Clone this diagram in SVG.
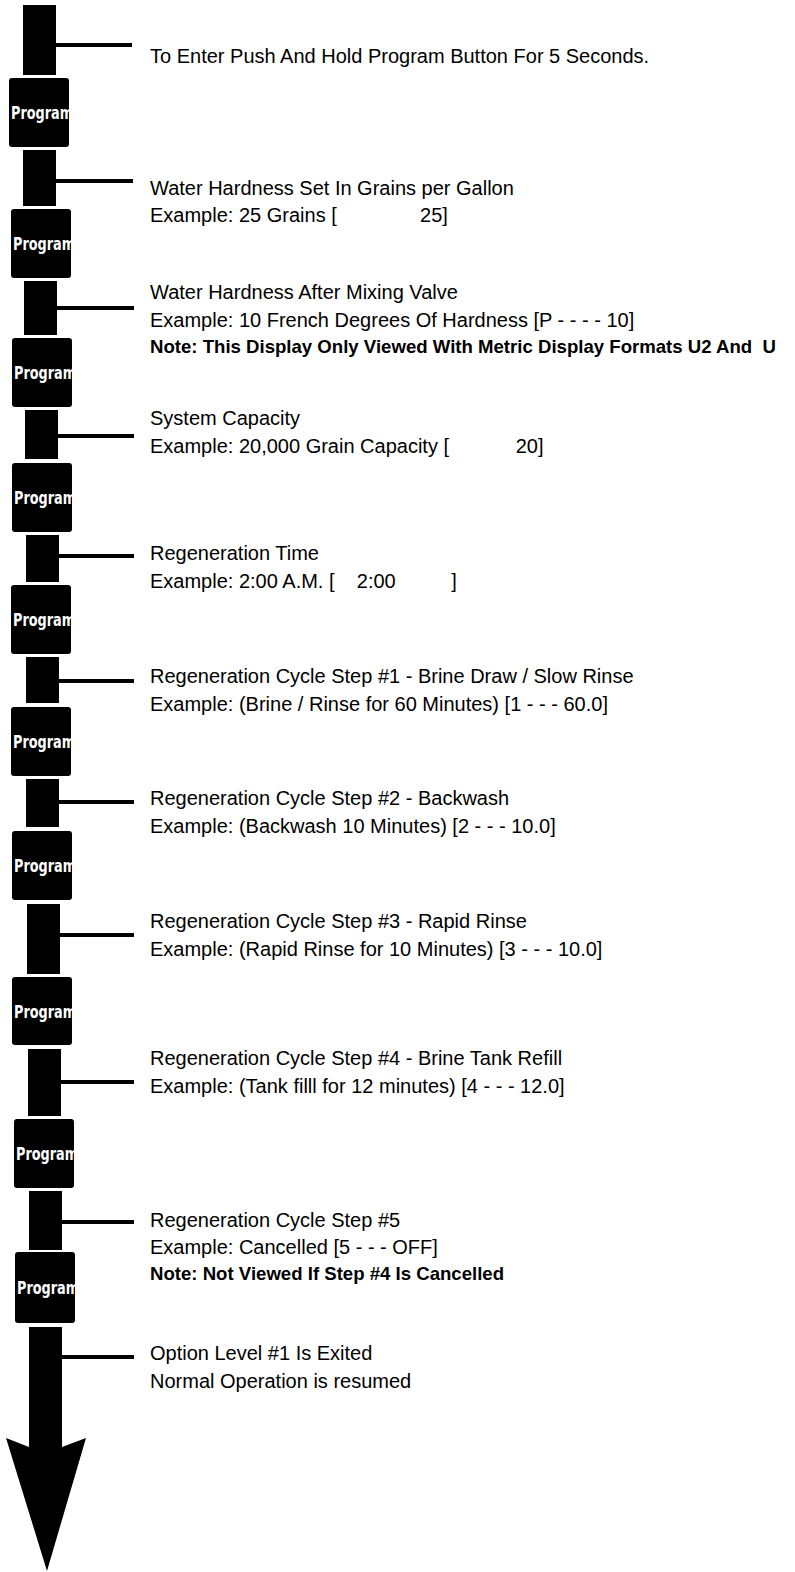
<svg xmlns="http://www.w3.org/2000/svg" width="795" height="1572" viewBox="0 0 795 1572">
<style>
.bar{fill:#000}
.btn{fill:#000}
.bt{font-family:"DejaVu Sans Condensed","DejaVu Sans",sans-serif;font-stretch:condensed;font-size:17px;font-weight:bold;fill:#fff}
.t{font-family:"Liberation Sans",Arial,sans-serif;font-size:20px;fill:#000}
.n{font-family:"Liberation Sans",Arial,sans-serif;font-size:18.6px;font-weight:bold;fill:#000}
.c{stroke:#000;stroke-width:4;fill:none}
</style>
<rect width="795" height="1572" fill="#fff"/>
<g id="bars">
<rect class="bar" x="23" y="5" width="33" height="70"/>
<rect class="bar" x="23" y="150" width="33" height="56"/>
<rect class="bar" x="24" y="281" width="33" height="54"/>
<rect class="bar" x="25" y="410" width="33" height="49"/>
<rect class="bar" x="26" y="535" width="33" height="47"/>
<rect class="bar" x="26" y="657" width="33" height="46"/>
<rect class="bar" x="26" y="779" width="33" height="48"/>
<rect class="bar" x="27" y="904" width="33" height="70"/>
<rect class="bar" x="28" y="1049" width="33" height="67"/>
<rect class="bar" x="29" y="1191" width="33" height="59"/>
</g>
<g id="btn1"><rect class="btn" x="9" y="78" width="60" height="69" rx="3"/><text class="bt" x="11" y="119" textLength="62" lengthAdjust="spacingAndGlyphs">Program</text></g>
<g id="btn2"><rect class="btn" x="11" y="209" width="60" height="69" rx="3"/><text class="bt" x="13" y="250" textLength="62" lengthAdjust="spacingAndGlyphs">Program</text></g>
<g id="btn3"><rect class="btn" x="12" y="338" width="60" height="69" rx="3"/><text class="bt" x="14" y="379" textLength="62" lengthAdjust="spacingAndGlyphs">Program</text></g>
<g id="btn4"><rect class="btn" x="12" y="463" width="60" height="69" rx="3"/><text class="bt" x="14" y="504" textLength="62" lengthAdjust="spacingAndGlyphs">Program</text></g>
<g id="btn5"><rect class="btn" x="11" y="585" width="60" height="69" rx="3"/><text class="bt" x="13" y="626" textLength="62" lengthAdjust="spacingAndGlyphs">Program</text></g>
<g id="btn6"><rect class="btn" x="11" y="707" width="60" height="69" rx="3"/><text class="bt" x="13" y="748" textLength="62" lengthAdjust="spacingAndGlyphs">Program</text></g>
<g id="btn7"><rect class="btn" x="12" y="831" width="60" height="69" rx="3"/><text class="bt" x="14" y="872" textLength="62" lengthAdjust="spacingAndGlyphs">Program</text></g>
<g id="btn8"><rect class="btn" x="12" y="977" width="60" height="68" rx="3"/><text class="bt" x="14" y="1018" textLength="62" lengthAdjust="spacingAndGlyphs">Program</text></g>
<g id="btn9"><rect class="btn" x="14" y="1119" width="60" height="69" rx="3"/><text class="bt" x="16" y="1160" textLength="62" lengthAdjust="spacingAndGlyphs">Program</text></g>
<g id="btn10"><rect class="btn" x="15" y="1252" width="60" height="71" rx="3"/><text class="bt" x="17" y="1294" textLength="62" lengthAdjust="spacingAndGlyphs">Program</text></g>
<g id="exit-arrow"><polygon fill="#000" points="29,1327 62,1327 62,1447 86,1438 47,1571 6,1438 29,1447"/></g>
<g id="connectors">
<line class="c" x1="56" y1="45" x2="132" y2="45"/>
<line class="c" x1="56" y1="181" x2="133" y2="181"/>
<line class="c" x1="57" y1="308" x2="134" y2="308"/>
<line class="c" x1="58" y1="436" x2="134" y2="436"/>
<line class="c" x1="59" y1="556" x2="134" y2="556"/>
<line class="c" x1="59" y1="681" x2="134" y2="681"/>
<line class="c" x1="59" y1="802" x2="134" y2="802"/>
<line class="c" x1="60" y1="935" x2="134" y2="935"/>
<line class="c" x1="61" y1="1082" x2="134" y2="1082"/>
<line class="c" x1="62" y1="1222" x2="134" y2="1222"/>
<line class="c" x1="62" y1="1357" x2="134" y2="1357"/>
</g>
<g id="label1"><text class="t" x="150" y="63">To Enter Push And Hold Program Button For 5 Seconds.</text></g>
<g id="label2"><text class="t" x="150" y="195">Water Hardness Set In Grains per Gallon</text><text class="t" x="150" y="222" xml:space="preserve">Example: 25 Grains [               25]</text></g>
<g id="label3"><text class="t" x="150" y="299">Water Hardness After Mixing Valve</text><text class="t" x="150" y="327">Example: 10 French Degrees Of Hardness [P - - - - 10]</text><text class="n" x="150" y="353" xml:space="preserve">Note: This Display Only Viewed With Metric Display Formats U2 And  U</text></g>
<g id="label4"><text class="t" x="150" y="425">System Capacity</text><text class="t" x="150" y="453" xml:space="preserve">Example: 20,000 Grain Capacity [            20]</text></g>
<g id="label5"><text class="t" x="150" y="560">Regeneration Time</text><text class="t" x="150" y="588" xml:space="preserve">Example: 2:00 A.M. [    2:00          ]</text></g>
<g id="label6"><text class="t" x="150" y="683">Regeneration Cycle Step #1 - Brine Draw / Slow Rinse</text><text class="t" x="150" y="711">Example: (Brine / Rinse for 60 Minutes) [1 - - - 60.0]</text></g>
<g id="label7"><text class="t" x="150" y="805">Regeneration Cycle Step #2 - Backwash</text><text class="t" x="150" y="833">Example: (Backwash 10 Minutes) [2 - - - 10.0]</text></g>
<g id="label8"><text class="t" x="150" y="928">Regeneration Cycle Step #3 - Rapid Rinse</text><text class="t" x="150" y="956">Example: (Rapid Rinse for 10 Minutes) [3 - - - 10.0]</text></g>
<g id="label9"><text class="t" x="150" y="1065">Regeneration Cycle Step #4 - Brine Tank Refill</text><text class="t" x="150" y="1093">Example: (Tank filll for 12 minutes) [4 - - - 12.0]</text></g>
<g id="label10"><text class="t" x="150" y="1227">Regeneration Cycle Step #5</text><text class="t" x="150" y="1254">Example: Cancelled [5 - - - OFF]</text><text class="n" x="150" y="1280">Note: Not Viewed If Step #4 Is Cancelled</text></g>
<g id="label11"><text class="t" x="150" y="1360">Option Level #1 Is Exited</text><text class="t" x="150" y="1388">Normal Operation is resumed</text></g>
</svg>
